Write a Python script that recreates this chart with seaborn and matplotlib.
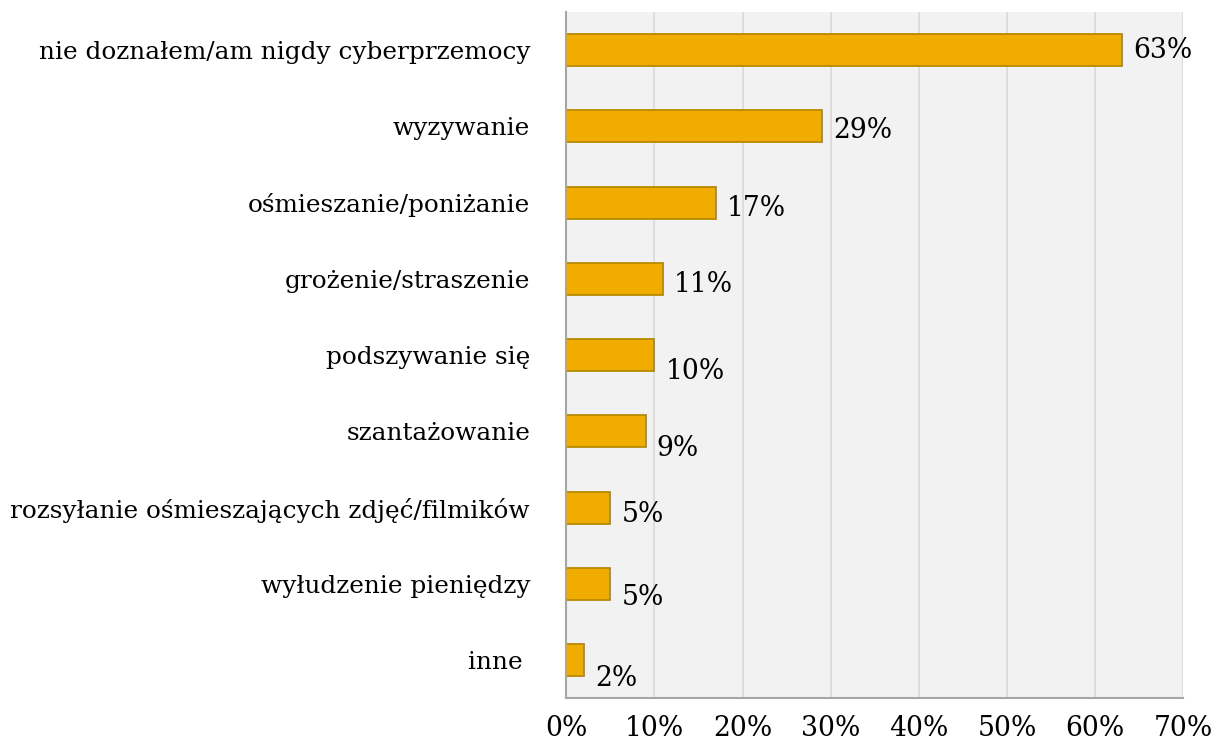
import numpy as np
import pandas as pd
import seaborn as sns
import matplotlib.pyplot as plt
from matplotlib.ticker import PercentFormatter

# dane z wykresu
kategorie = ['nie doznałem/am nigdy cyberprzemocy', 'wyzywanie', 'ośmieszanie/poniżanie',
             'grożenie/straszenie', 'podszywanie się', 'szantażowanie',
             'rozsyłanie ośmieszających zdjęć/filmików', 'wyłudzenie pieniędzy', 'inne ']
procenty = [63, 29, 17, 11, 10, 9, 5, 5, 2]

df = pd.DataFrame({'kategoria': kategorie, 'procent': procenty})

sns.set_style('white')
plt.rcParams['font.family'] = ['DejaVu Serif']
plt.rcParams['text.color'] = 'black'
plt.rcParams['xtick.color'] = 'black'
plt.rcParams['ytick.color'] = 'black'

fig = plt.figure(figsize=(12.15, 7.46), dpi=100)
ax = fig.add_axes([0.466, 0.064, 0.508, 0.920])
ax.set_facecolor('#F2F2F2')

sns.barplot(data=df, x='procent', y='kategoria', orient='h', color='#F0AD00',
            saturation=1, width=0.42, edgecolor='#B88A00', linewidth=1.3, ax=ax)

ax.set_xlim(0, 70)
ax.set_ylim(8.5, -0.5)
ax.set_xticks(np.arange(0, 71, 10))
ax.xaxis.set_major_formatter(PercentFormatter(decimals=0))
ax.grid(axis='x', color='#D9D9D9', linewidth=1.2)
ax.set_axisbelow(True)
ax.set_xlabel('')
ax.set_ylabel('')
ax.tick_params(axis='x', labelsize=19.2, length=0, pad=12)
ax.tick_params(axis='y', labelsize=17.8, length=0, pad=26)

for s in ['top', 'right']:
    ax.spines[s].set_visible(False)
for s in ['left', 'bottom']:
    ax.spines[s].set_color('#A6A6A6')
    ax.spines[s].set_linewidth(1.5)

# etykiety danych (przesunięte w dół jak w oryginale)
przesuniecia = [0, -3, -4, -4, -12, -12, -5, -10, -13]
for i, (v, dy) in enumerate(zip(procenty, przesuniecia)):
    ax.annotate(f'{v}%', (v, i), xytext=(8, dy), textcoords='offset points',
                ha='left', va='center', fontsize=19.2)

plt.savefig('out.png', dpi=100)
